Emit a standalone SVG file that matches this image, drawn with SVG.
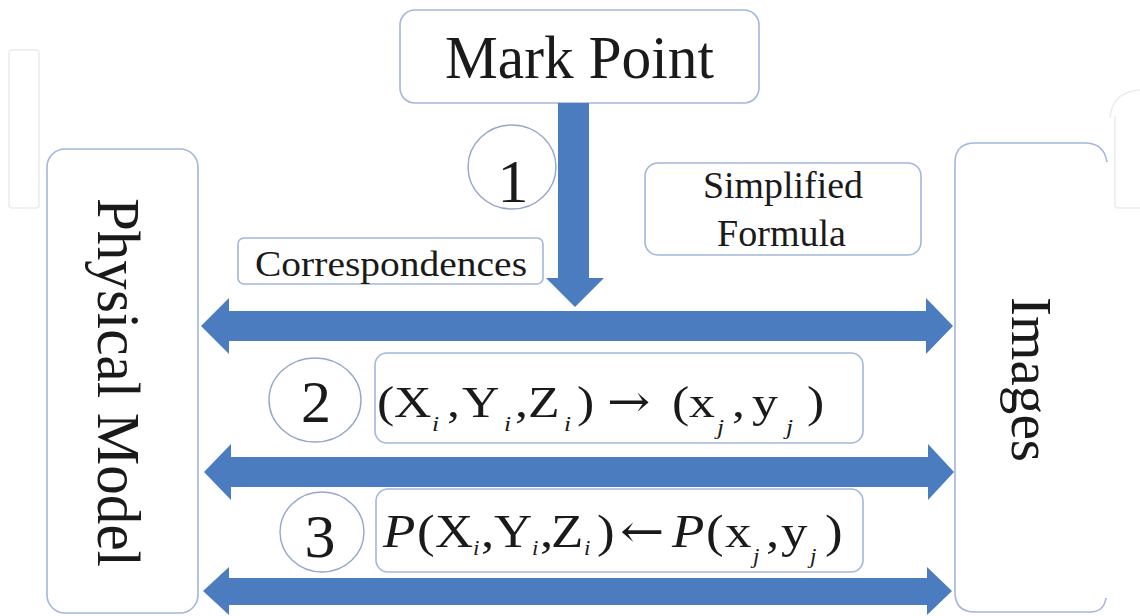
<svg xmlns="http://www.w3.org/2000/svg" width="1140" height="616" viewBox="0 0 1140 616">
<style>
.box{fill:#ffffff;stroke:#a3b6dc;stroke-width:1.6}
.circ{fill:#ffffff;stroke:#94a6c9;stroke-width:1.4}
.t{font-family:"Liberation Serif","Times New Roman",serif;fill:#1a1a1a}
.arrow{fill:#4a7cbf}
.wm{fill:none;stroke:#ececec;stroke-width:1.5}
.it{font-style:italic}
.ar{font-family:"DejaVu Serif",serif}
</style>
<rect width="1140" height="616" fill="#ffffff"/>
<!-- faint background marks -->
<rect class="wm" x="9" y="50" width="30" height="158" rx="3"/>
<path class="wm" d="M1110,118 Q1112,92 1140,90 M1115,116 L1115,205 Q1115,208 1118,208 L1140,208"/>

<g id="physical-model">
<rect class="box" x="47" y="149" width="151" height="464" rx="18"/>
<text class="t" transform="translate(98,198) rotate(90)" font-size="62" textLength="369" lengthAdjust="spacingAndGlyphs">Physical Model</text>
</g>
<g id="images">
<path class="box" d="M1107,162 Q1104,143 1085,143 L975,143 Q955,143 955,163 L955,592 Q955,612 975,612 L1090,612 Q1104,612 1106,598"/>
<text class="t" transform="translate(1012,297) rotate(90)" font-size="58" textLength="165" lengthAdjust="spacingAndGlyphs">Images</text>
</g>
<g id="mark-point">
<rect class="box" x="400" y="10" width="359" height="93" rx="15"/>
<text class="t" x="445" y="78" font-size="62" textLength="269" lengthAdjust="spacingAndGlyphs">Mark Point</text>
</g>
<g id="correspondences">
<rect class="box" x="238" y="238" width="305" height="46" rx="6"/>
<text class="t" x="255" y="276" font-size="36" textLength="272" lengthAdjust="spacingAndGlyphs">Correspondences</text>
</g>
<g id="simplified-formula">
<rect class="box" x="645" y="163" width="276" height="92" rx="13"/>
<text class="t" x="703" y="198" font-size="37" textLength="160" lengthAdjust="spacingAndGlyphs">Simplified</text>
<text class="t" x="717" y="246" font-size="37" textLength="129" lengthAdjust="spacingAndGlyphs">Formula</text>
</g>

<g id="connectors">
<polygon class="arrow" points="558,103 589,103 589,278 604,278 575,307 546,278 558,278"/>
<polygon class="arrow" points="201,326 229,298 229,311 926,311 926,298 953,326 926,354 926,341 229,341 229,354"/>
<polygon class="arrow" points="204,472 231,444 231,457 928,457 928,444 954,472 928,500 928,487 231,487 231,500"/>
<polygon class="arrow" points="203,591 229,567 229,578 927,578 927,567 952,591 927,615 927,605 229,605 229,615"/>
</g>

<g id="step-1">
<ellipse class="circ" cx="512" cy="167" rx="44" ry="42"/>
<text class="t" x="513" y="202" font-size="62" text-anchor="middle">1</text>
</g>
<g id="step-2">
<ellipse class="circ" cx="315" cy="400" rx="46" ry="42"/>
<text class="t" x="316" y="422" font-size="60" text-anchor="middle">2</text>
</g>
<g id="step-3">
<ellipse class="circ" cx="322" cy="532" rx="42" ry="40"/>
<text class="t" x="320" y="557" font-size="62" text-anchor="middle">3</text>
</g>

<g id="formula-2">
<rect class="box" x="375" y="353" width="488" height="90" rx="12"/>
<g transform="translate(377,417) scale(1.15,1)">
<text class="t" font-size="45">
<tspan x="0" y="0">(</tspan><tspan x="14.8" y="0">X</tspan><tspan class="it" x="47.8" y="14" font-size="22">i</tspan><tspan x="60.9" y="0">,</tspan><tspan x="73.9" y="0">Y</tspan><tspan class="it" x="110.4" y="14" font-size="22">i</tspan><tspan x="120" y="0">,</tspan><tspan x="131.3" y="0">Z</tspan><tspan class="it" x="162.6" y="14" font-size="22">i</tspan><tspan x="173.9" y="0">)</tspan><tspan class="ar" x="200" y="0" font-size="45">→</tspan><tspan x="256.5" y="0">(</tspan><tspan x="271.3" y="0">x</tspan><tspan class="it" x="295.7" y="17" font-size="22">j</tspan><tspan x="308.7" y="0">,</tspan><tspan x="326" y="0">y</tspan><tspan class="it" x="355.7" y="17" font-size="22">j</tspan><tspan x="373.9" y="0">)</tspan>
</text>
</g>
</g>

<g id="formula-3">
<rect class="box" x="376" y="489" width="487" height="83" rx="12"/>
<g transform="translate(383,547) scale(1.15,1)">
<text class="t" font-size="46">
<tspan class="it" x="0" y="0">P</tspan><tspan x="29.6" y="0">(</tspan><tspan x="45.2" y="0">X</tspan><tspan class="it" x="78.3" y="8" font-size="20">i</tspan><tspan x="85.2" y="0">,</tspan><tspan x="96.5" y="0">Y</tspan><tspan class="it" x="129.6" y="8" font-size="20">i</tspan><tspan x="136.5" y="0">,</tspan><tspan x="146.1" y="0">Z</tspan><tspan class="it" x="174.8" y="8" font-size="20">i</tspan><tspan x="186.1" y="0">)</tspan><tspan class="ar" x="206.1" y="0" font-size="46">←</tspan><tspan class="it" x="251.3" y="0">P</tspan><tspan x="280.9" y="0">(</tspan><tspan x="297.4" y="0">x</tspan><tspan class="it" x="321.7" y="16" font-size="20">j</tspan><tspan x="333" y="0">,</tspan><tspan x="346" y="0">y</tspan><tspan class="it" x="371.3" y="16" font-size="20">j</tspan><tspan x="384.3" y="0">)</tspan>
</text>
</g>
</g>
</svg>
